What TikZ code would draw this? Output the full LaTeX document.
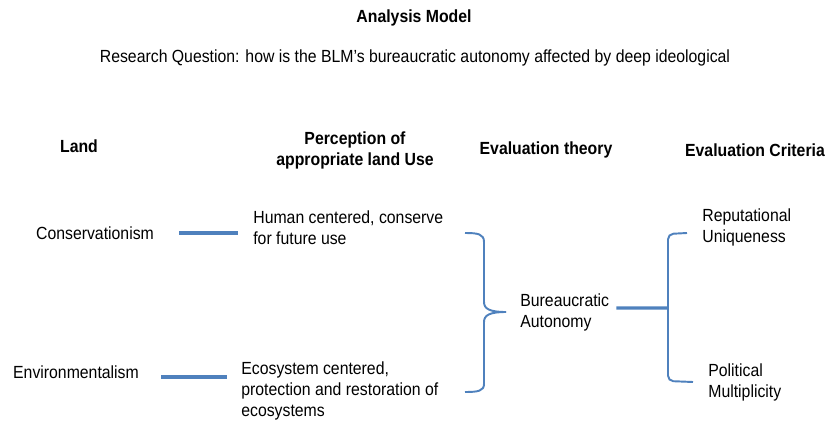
\documentclass[tikz,border=0pt]{standalone}
\usepackage{fontspec}
\setmainfont{Liberation Sans}[FakeStretch=0.9]
\usetikzlibrary{positioning}
\definecolor{linkblue}{HTML}{4F81BD}
\tikzset{
txt/.style={align=left,inner sep=0pt,font=\fontsize{10}{12}\selectfont},
head/.style={align=center,inner sep=0pt,font=\fontsize{10}{12}\selectfont\bfseries},
link/.style={draw=linkblue,line width=1.8pt},
brace/.style={draw=linkblue,line width=1.1pt}
}

\begin{document}
\begin{tikzpicture}[x=0.02cm,y=-0.02cm]
\useasboundingbox (0,0) rectangle (829,423);
\node[head] (title) at (414,18) {Analysis Model};
\node[txt] (question) at (415,58) {Research Question: how is the BLM's bureaucratic autonomy affected by deep ideological};
\node[head] (land) at (79,146) {Land};
\node[head] (percep) at (355,150) {Perception of\\appropriate land Use};
\node[head] (theory) at (546,150) {Evaluation theory};
\node[head] (criteria) at (755,150) {Evaluation Criteria};

\node[txt] (cons) at (95,233) {Conservationism};
\node[txt,anchor=west] (human) at (253,228) {Human centered, conserve\\for future use};
\node[txt] (env) at (76,372) {Environmentalism};
\node[txt,anchor=west] (eco) at (241,391) {Ecosystem centered,\\protection and restoration of\\ecosystems};
\node[txt,anchor=west] (bureau) at (520,312) {Bureaucratic\\Autonomy};
\node[txt,anchor=west] (reput) at (702,227) {Reputational\\Uniqueness};
\node[txt,anchor=west] (polit) at (708,382) {Political\\Multiplicity};

\coordinate (ltip) at (506,312);
\coordinate (rtip) at (668,308);

\draw[link,shorten <=.5cm,shorten >=.3cm] (cons.east) -- (cons.east -| human.west);
\draw[link,shorten <=.44cm,shorten >=.28cm] ([yshift=-.1cm]env.east) -- ([yshift=-.1cm]env.east -| eco.west);
\draw[link,shorten <=.14cm] ([yshift=.08cm]bureau.east) -- (rtip);

\draw[brace] (465,233) .. controls (478,233) and (484,234) .. (484,242) -- (484,302)
  .. controls (484,309) and (490,312) .. (ltip);
\draw[brace] (ltip) .. controls (490,312) and (484,315) .. (484,322) -- (484,384)
  .. controls (484,391) and (478,392) .. (465,392);
\draw[brace,rounded corners=3pt] (687,233) -- (668,234) -- (rtip) -- (668,381) -- (693,382);
\end{tikzpicture}
\end{document}
